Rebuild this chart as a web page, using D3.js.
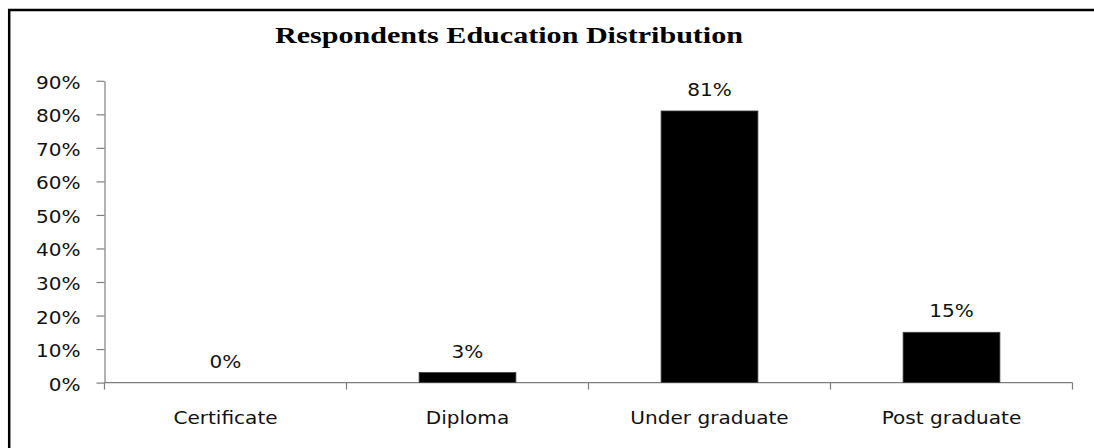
<!DOCTYPE html>
<html>
<head>
<meta charset="utf-8">
<script src="https://cdn.jsdelivr.net/npm/d3@7"></script>
<style>
  html, body { margin: 0; padding: 0; background: #fff; }
  svg { display: block; }
</style>
</head>
<body>
<svg id="chart" width="1094" height="448"></svg>
<script>
// Education level categories and share of respondents (fractions)
const categories = ["Certificate", "Diploma", "Under graduate", "Post graduate"];
const shares = [0.00, 0.03, 0.81, 0.15];
const valueLabels = ["0%", "3%", "81%", "15%"];
const yTicks = [0, 0.1, 0.2, 0.3, 0.4, 0.5, 0.6, 0.7, 0.8, 0.9];
const chartTitle = "Respondents Education Distribution";

const svg = d3.select("#chart");
const W = 1094, H = 448;
const plot = { left: 104.5, right: 1072.5, top: 80.8, bottom: 382.6 };
const labelFont = "'DejaVu Sans', Verdana, sans-serif";
const labelSize = 17;
const widen = 1.18; // labels are set slightly wide

// Stretch a text element horizontally by the given factor
function stretch(sel, k) {
  sel.each(function () {
    const w = this.getComputedTextLength();
    d3.select(this)
      .attr("textLength", w * k)
      .attr("lengthAdjust", "spacingAndGlyphs");
  });
}

// Outer frame (runs past the right and bottom edges)
svg.append("rect")
  .attr("x", 9.2).attr("y", 10)
  .attr("width", W + 20).attr("height", H + 20)
  .attr("fill", "#fff")
  .attr("stroke", "#000").attr("stroke-width", 2.5);

const x = d3.scaleBand()
  .domain(categories)
  .range([plot.left, plot.right])
  .paddingInner(0.6)
  .paddingOuter(0.3);

const y = d3.scaleLinear().domain([0, 0.9]).range([plot.bottom, plot.top]);

// Title
svg.append("text")
  .attr("x", 509).attr("y", 43)
  .attr("text-anchor", "middle")
  .attr("font-family", "'Liberation Serif', 'Times New Roman', serif")
  .attr("font-weight", "bold")
  .attr("font-size", 23.5)
  .attr("textLength", 468)
  .attr("lengthAdjust", "spacingAndGlyphs")
  .text(chartTitle);

// Y axis
const yAxis = d3.axisLeft(y)
  .tickValues(yTicks)
  .tickFormat(d3.format(".0%"))
  .tickSize(8)
  .tickPadding(16)
  .tickSizeOuter(0);
const gy = svg.append("g")
  .attr("transform", `translate(${plot.left},0)`)
  .call(yAxis);
gy.select(".domain").attr("stroke", "#7f7f7f").attr("stroke-width", 1.2);
gy.selectAll(".tick line").attr("stroke", "#7f7f7f").attr("stroke-width", 1.2);
gy.selectAll(".tick text")
  .attr("font-family", labelFont)
  .attr("font-size", labelSize)
  .attr("fill", "#111")
  .attr("dy", "0.44em")
  .call(stretch, widen);

// X axis: baseline and category separator ticks at band boundaries
const step = x.step();
const boundaries = d3.range(categories.length + 1).map(i => plot.left + i * step);
svg.append("line")
  .attr("x1", plot.left).attr("x2", plot.right)
  .attr("y1", plot.bottom).attr("y2", plot.bottom)
  .attr("stroke", "#7f7f7f").attr("stroke-width", 1.2);
svg.selectAll(".xsep").data(boundaries).join("line")
  .attr("class", "xsep")
  .attr("x1", d => d).attr("x2", d => d)
  .attr("y1", plot.bottom).attr("y2", plot.bottom + 7)
  .attr("stroke", "#7f7f7f").attr("stroke-width", 1.2);

// Category labels
svg.selectAll(".cat").data(categories).join("text")
  .attr("class", "cat")
  .attr("x", d => x(d) + x.bandwidth() / 2)
  .attr("y", 424)
  .attr("text-anchor", "middle")
  .attr("font-family", labelFont)
  .attr("font-size", labelSize)
  .attr("fill", "#111")
  .text(d => d)
  .call(stretch, widen);

// Bars
svg.selectAll(".bar").data(shares).join("rect")
  .attr("class", "bar")
  .attr("x", (d, i) => x(categories[i]))
  .attr("width", x.bandwidth())
  .attr("y", d => y(d))
  .attr("height", d => y(0) - y(d))
  .attr("fill", "#000")
  .attr("stroke", "#404040")
  .attr("stroke-width", d => d > 0 ? 0.8 : 0);

// Value labels above bars
svg.selectAll(".val").data(shares).join("text")
  .attr("class", "val")
  .attr("x", (d, i) => x(categories[i]) + x.bandwidth() / 2)
  .attr("y", d => y(d) - 15)
  .attr("text-anchor", "middle")
  .attr("font-family", labelFont)
  .attr("font-size", labelSize)
  .attr("fill", "#111")
  .text((d, i) => valueLabels[i])
  .call(stretch, widen);
</script>
</body>
</html>
